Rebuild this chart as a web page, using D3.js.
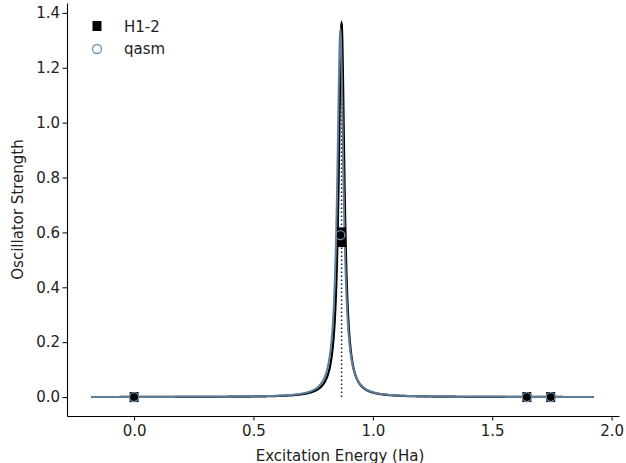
<!DOCTYPE html>
<html>
<head>
<meta charset="utf-8">
<script src="https://cdn.jsdelivr.net/npm/d3@7"></script>
<style>
  body { margin: 0; background: #fff; }
  svg text { font-family: "DejaVu Sans", sans-serif; }
</style>
</head>
<body>
<svg width="626" height="463"></svg>
<script>
// excitation energies (Ha) and oscillator strengths
var h12Energy = [0.0, 0.869, 0.869, 1.645, 1.745];
var h12Strength = [0.0, 0.60, 0.565, 0.0, 0.0];
var qasmEnergy = [0.0, 0.864, 1.645, 1.745];
var qasmStrength = [0.0, 0.59, 0.0, 0.0];
// broadened spectrum peaks (height, width)
var h12Peak = [1.36, 0.0145];
var qasmPeak = [1.335, 0.0158];
var xTicks = [0.0, 0.5, 1.0, 1.5, 2.0];
var yTicks = [0.0, 0.2, 0.4, 0.6, 0.8, 1.0, 1.2, 1.4];

var svg = d3.select('svg');
var plotLeft = 67, plotRight = 619, plotTop = 3, plotBottom = 416;

var x = d3.scaleLinear().domain([-0.281, 2.031]).range([plotLeft, plotRight]);
var y = d3.scaleLinear().domain([-0.069, 1.436]).range([plotBottom, plotTop]);

// spectrum grid: from min energy - 0.18 to max energy + 0.18
var grid = d3.range(-0.18, 1.9251, 0.0005);
function spectrum(energies, strengths, peak) {
  var x0 = energies[strengths.indexOf(d3.max(strengths))];
  return grid.map(function(e) {
    var g = peak[1];
    return [e, peak[0] * g * g / ((e - x0) * (e - x0) + g * g)];
  });
}

var line = d3.line().x(function(d) { return x(d[0]); }).y(function(d) { return y(d[1]); });

// dotted stem under the peak
svg.append('line')
  .attr('x1', x(h12Energy[1])).attr('x2', x(h12Energy[1]))
  .attr('y1', y(0)).attr('y2', y(h12Peak[0]))
  .attr('stroke', '#222').attr('stroke-width', 1.5)
  .attr('stroke-dasharray', '1.5,2.5');

svg.append('path')
  .datum(spectrum(h12Energy, h12Strength, h12Peak))
  .attr('d', line)
  .attr('fill', 'none').attr('stroke', '#000').attr('stroke-width', 2.2);

svg.append('path')
  .datum(spectrum(qasmEnergy, qasmStrength, qasmPeak))
  .attr('d', line)
  .attr('fill', 'none').attr('stroke', '#5e7d99').attr('stroke-width', 2);

// markers
svg.append('g').selectAll('rect')
  .data(h12Energy)
  .enter().append('rect')
  .attr('x', function(d) { return x(d) - 4.5; })
  .attr('y', function(d, i) { return y(h12Strength[i]) - 5; })
  .attr('width', 9).attr('height', 10)
  .attr('fill', '#000');

svg.append('g').selectAll('circle')
  .data(qasmEnergy)
  .enter().append('circle')
  .attr('cx', function(d) { return x(d); })
  .attr('cy', function(d, i) { return y(qasmStrength[i]); })
  .attr('r', 4.5)
  .attr('fill', 'none').attr('stroke', '#6f8faf').attr('stroke-width', 1.3);

// axes
var xAxis = svg.append('g')
  .attr('transform', 'translate(0,' + plotBottom + ')')
  .call(d3.axisBottom(x).tickValues(xTicks).tickFormat(d3.format('.1f')).tickSize(4.5).tickSizeOuter(0));
var yAxis = svg.append('g')
  .attr('transform', 'translate(' + plotLeft + ',0)')
  .call(d3.axisLeft(y).tickValues(yTicks).tickFormat(d3.format('.1f')).tickSize(4.5).tickSizeOuter(0));
[xAxis, yAxis].forEach(function(a) {
  a.select('.domain').attr('stroke', '#000').attr('stroke-width', 1.1);
  a.selectAll('.tick line').attr('stroke', '#000');
  a.selectAll('.tick text').attr('fill', '#222').style('font-size', '15px')
    .style('font-family', '"DejaVu Sans", sans-serif');
});
xAxis.selectAll('.tick text').attr('y', 9);
yAxis.selectAll('.tick text').attr('x', -7);

svg.append('text')
  .attr('x', (plotLeft + plotRight) / 2 - 3).attr('y', 461)
  .attr('text-anchor', 'middle').attr('fill', '#222').style('font-size', '15px')
  .text('Excitation Energy (Ha)');
svg.append('text')
  .attr('transform', 'translate(23,' + ((plotTop + plotBottom) / 2) + ') rotate(-90)')
  .attr('text-anchor', 'middle').attr('fill', '#222').style('font-size', '15px')
  .text('Oscillator Strength');

// legend
var legend = svg.append('g').attr('transform', 'translate(97,26)');
legend.append('rect').attr('x', -4.5).attr('y', -5).attr('width', 9).attr('height', 10).attr('fill', '#000');
legend.append('text').attr('x', 27).attr('y', 5.5).attr('fill', '#222').style('font-size', '15px').text('H1-2');
legend.append('circle').attr('cx', 0).attr('cy', 23).attr('r', 4.5)
  .attr('fill', 'none').attr('stroke', '#6f8faf').attr('stroke-width', 1.3);
legend.append('text').attr('x', 27).attr('y', 28).attr('fill', '#222').style('font-size', '15px').text('qasm');
</script>
</body>
</html>
